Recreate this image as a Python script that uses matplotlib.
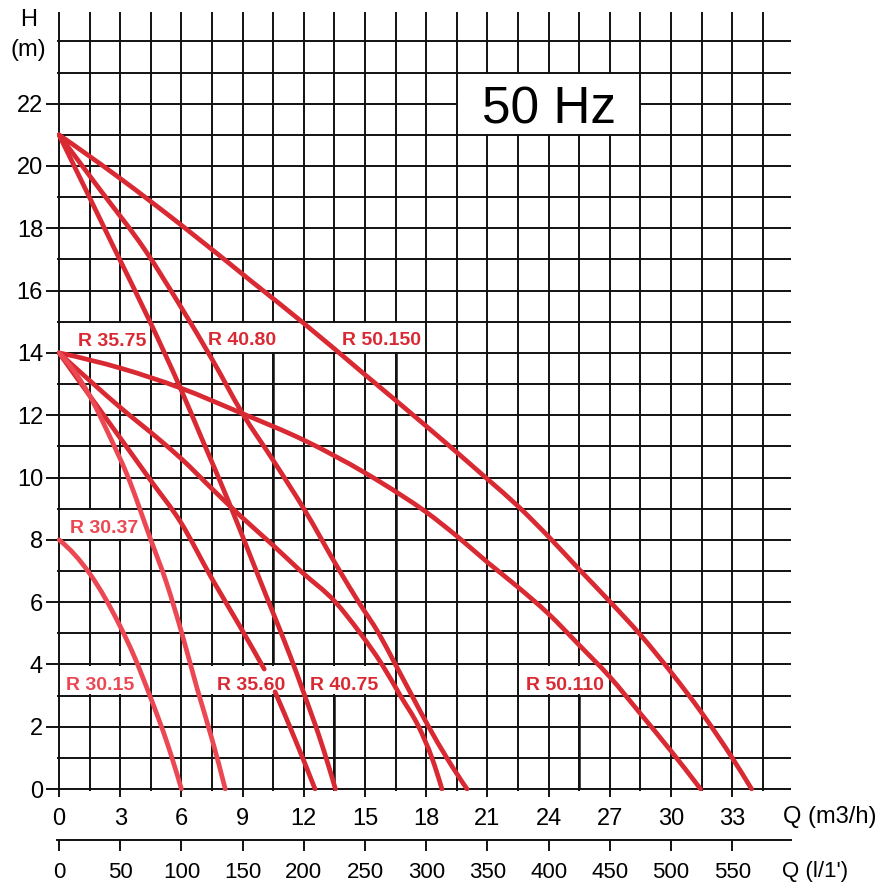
import numpy as np
import matplotlib
matplotlib.use("Agg")
import matplotlib.pyplot as plt
from matplotlib.patches import Rectangle, PathPatch
from matplotlib.path import Path

nan = np.nan

# ---- data (Q in m3/h, H in m) ----
r3015_q = [0, 1.5, 3.0, 3.66, 4.48, 5.29, 6.0]
r3015_h = [8, 6.92, 5.22, 4.3, 2.95, 1.5, 0]
r3037_q = [0, 1.44, 2.5, 3.33, 4.5, 5.28, 6.0, 6.76, 7.5, 8.15]
r3037_h = [14, 12.7, 11.3, 10.1, 8.0, 6.6, 5.05, 3.25, 1.6, 0]
r3560_q = [0, 1.5, 3.0, 4.5, 5.93, 7.5, 8.87, 10.06, nan, 10.59, 11.6, 12.55]
r3560_h = [14, 12.63, 11.27, 9.9, 8.6, 6.75, 5.22, 3.85, nan, 3.12, 1.55, 0]
r3575_q = [0, 1.49, 2.75, 4.46, 5.93, 7.0, 8.4, 9.38, 10.36, 11.34, 12.0, 12.81, 13.55]
r3575_h = [21, 19.0, 17.3, 15.0, 12.9, 11.25, 9.09, 7.48, 5.87, 4.26, 3.08, 1.58, 0]
r4075_q = [0, 1.44, 3.0, 4.95, 6.0, 7.56, 8.87, 10.5, 11.84, 13.55, 14.77, 15.83, 16.73, 17.63, 18.28, 18.77]
r4075_h = [14, 13.15, 12.25, 11.2, 10.6, 9.6, 8.78, 7.82, 7.0, 6.0, 5.0, 4.0, 3.0, 2.0, 1.0, 0]
r4080_q = [0, 2.0, 4.22, 6.0, 7.5, 9.0, 10.5, 12.0, 13.76, 14.69, 15.67, 16.49, 17.3, 18.12, 19.01, 20.0]
r4080_h = [21, 19.25, 17.3, 15.45, 13.8, 12.05, 10.55, 9.0, 7.0, 6.0, 5.0, 4.0, 3.0, 2.0, 1.0, 0]
r50110_q = [0, 3.07, 5.93, 9.0, 12.0, 15.0, 16.78, 18.0, 19.5, 21.0, 22.5, 24.0, 25.5, 27.0, 28.5, 30.0, 31.45]
r50110_h = [14, 13.5, 12.88, 12.05, 11.2, 10.15, 9.43, 8.89, 8.12, 7.28, 6.48, 5.62, 4.62, 3.6, 2.42, 1.22, 0]
r50150_q = [0, 3.0, 6.0, 9.43, 12.0, 15.0, 18.0, 21.0, 22.5, 24.0, 25.5, 27.0, 28.5, 30.0, 31.5, 33.0, 33.95]
r50150_h = [21, 19.6, 18.1, 16.3, 14.95, 13.3, 11.65, 9.95, 9.08, 8.1, 7.05, 6.02, 4.95, 3.75, 2.45, 1.0, 0]

light_series = [(r3015_q, r3015_h), (r3037_q, r3037_h)]
dark_series = [(r3560_q, r3560_h), (r3575_q, r3575_h), (r4075_q, r4075_h),
               (r4080_q, r4080_h), (r50110_q, r50110_h), (r50150_q, r50150_h)]

label_text = ["R 35.75", "R 40.80", "R 50.150", "R 30.37", "R 30.15", "R 35.60", "R 40.75", "R 50.110"]
label_q = [2.62, 8.98, 15.82, 2.21, 2.03, 9.43, 13.96, 24.79]
label_h = [14.45, 14.47, 14.47, 8.45, 3.40, 3.40, 3.40, 3.40]
label_light = [False, False, False, True, True, False, False, False]
box_q0 = [0.06, 6.06, 12.06, 0.06, 0.06, 6.06, 12.06, 22.56]
box_q1 = [4.44, 11.94, 17.94, 4.44, 4.44, 11.94, 16.44, 26.94]
box_h0 = [14, 14, 14, 8, 3, 3, 3, 3]

heavy_q = [10.5, 16.5, 13.5, 25.5]
heavy_h0 = [4.0, 4.0, 0.0, 0.0]
heavy_h1 = [14.0, 14.0, 3.0, 3.0]

x_major = list(np.arange(0, 34, 3))
x_minor = list(np.arange(1.5, 35, 3))
y_major = list(range(0, 23, 2))
y_minor = list(range(1, 25))
lmin_ticks = list(range(0, 551, 50))

DARK = "#d92a33"
LIGHT = "#ec4853"
FONT = "Liberation Sans"
plt.rcParams["font.family"] = [FONT, "DejaVu Sans"]


def smooth_paths(q, h):
    """Smooth cubic (Hermite, as bezier) path through the given points; NaN splits."""
    q = np.asarray(q, float)
    h = np.asarray(h, float)
    segs, cq, ch = [], [], []
    for a, b in zip(q, h):
        if np.isnan(a):
            if cq:
                segs.append((np.array(cq), np.array(ch)))
            cq, ch = [], []
        else:
            cq.append(a)
            ch.append(b)
    if cq:
        segs.append((np.array(cq), np.array(ch)))
    paths = []
    for x, y in segs:
        n = len(x)
        hs = np.diff(x)
        d = np.diff(y) / hs
        s = np.zeros(n)
        if n == 2:
            s[:] = d[0]
        else:
            for i in range(1, n - 1):
                s[i] = (d[i - 1] * hs[i] + d[i] * hs[i - 1]) / (hs[i - 1] + hs[i])
            s[0] = d[0] + (d[0] - d[1]) * hs[0] / (hs[0] + hs[1])
            s[-1] = d[-1] + (d[-1] - d[-2]) * hs[-1] / (hs[-2] + hs[-1])
        verts = [(x[0], y[0])]
        codes = [Path.MOVETO]
        for i in range(n - 1):
            t = hs[i] / 3.0
            verts += [(x[i] + t, y[i] + s[i] * t),
                      (x[i + 1] - t, y[i + 1] - s[i + 1] * t),
                      (x[i + 1], y[i + 1])]
            codes += [Path.CURVE4] * 3
        paths.append(Path(verts, codes))
    return paths


W, Hh = 881, 884
fig = plt.figure(figsize=(W / 100, Hh / 100), dpi=100)
# pixel mapping: Q=0 at x=59, 20.4 px/unit ; H=0 at y=789, 31.15 px/unit
xlim = (-0.08, 35.88)
ylim = (-0.06, 24.94)
pxl = 59 + xlim[0] * 20.4
pxr = 59 + xlim[1] * 20.4
pyb = 789 - ylim[0] * 31.15
pyt = 789 - ylim[1] * 31.15
ax = fig.add_axes([pxl / W, 1 - pyb / Hh, (pxr - pxl) / W, (pyb - pyt) / Hh])
ax.set_xlim(*xlim)
ax.set_ylim(*ylim)
for s in ax.spines.values():
    s.set_visible(False)

ax.set_xticks(x_major)
ax.set_xticks(x_minor, minor=True)
ax.set_yticks(y_major)
ax.set_yticks(y_minor, minor=True)
ax.set_xticklabels([str(int(v)) for v in x_major])
ax.set_yticklabels([str(v) for v in y_major])
ax.grid(True, which="both", color="#111111", linewidth=1.4, zorder=0.5)
ax.set_axisbelow(True)
ax.tick_params(axis="y", which="major", length=7.8, width=1.4, color="#111111",
               labelsize=17, pad=2.5)
ax.tick_params(axis="x", which="major", length=4.3, width=1.4, color="#111111",
               labelsize=17, pad=8)
ax.tick_params(which="minor", length=0)

for q, h0, h1 in zip(heavy_q, heavy_h0, heavy_h1):
    ax.vlines(q, h0, h1, color="#111111", linewidth=1.8, zorder=0.6)

# white label boxes hiding the grid
for q0, q1, h0 in zip(box_q0, box_q1, box_h0):
    ax.add_patch(Rectangle((q0, h0 + 0.04), q1 - q0, 0.92, facecolor="white",
                           edgecolor="none", zorder=1))
ax.add_patch(Rectangle((19.56, 21.04), 28.44 - 19.56, 1.92, facecolor="white",
                       edgecolor="none", zorder=1))

for series, color, z in ((dark_series, DARK, 2), (light_series, LIGHT, 2.1)):
    for q, h in series:
        for p in smooth_paths(q, h):
            ax.add_patch(PathPatch(p, facecolor="none", edgecolor=color,
                                   linewidth=3.4, capstyle="round",
                                   joinstyle="round", zorder=z))

for t, q, h, lt in zip(label_text, label_q, label_h, label_light):
    ax.text(q, h - 0.22, t, color=LIGHT if lt else DARK, fontsize=14,
            fontweight="bold", ha="center", va="baseline", zorder=3)

ax.text(24.0, 21.38, "50 Hz", fontsize=37, color="black", ha="center",
        va="baseline", zorder=3)

# second flow axis (l/min)
sec = ax.secondary_xaxis((pyb - 840) / (pyb - pyt),
                         functions=(lambda q: q * 1000.0 / 60.0,
                                    lambda l: l * 60.0 / 1000.0))
sec.set_xticks(lmin_ticks)
sec.set_xticklabels([str(v) for v in lmin_ticks])
sec.spines["bottom"].set_linewidth(1.4)
sec.spines["bottom"].set_color("#111111")
sec.tick_params(axis="x", which="major", length=8, width=1.4, color="#111111",
                labelsize=16, pad=7.5)

fig.text(29 / W, 1 - 20 / Hh, "H", fontsize=17, ha="center", va="center")
fig.text(28 / W, 1 - 50 / Hh, "(m)", fontsize=17, ha="center", va="center")
fig.text(829.5 / W, 1 - 817.5 / Hh, "Q (m3/h)", fontsize=17, ha="center", va="center")
fig.text(815.5 / W, 1 - 871 / Hh, "Q (l/1')", fontsize=16, ha="center", va="center")

fig.savefig("out.png", dpi=100, facecolor="white")
